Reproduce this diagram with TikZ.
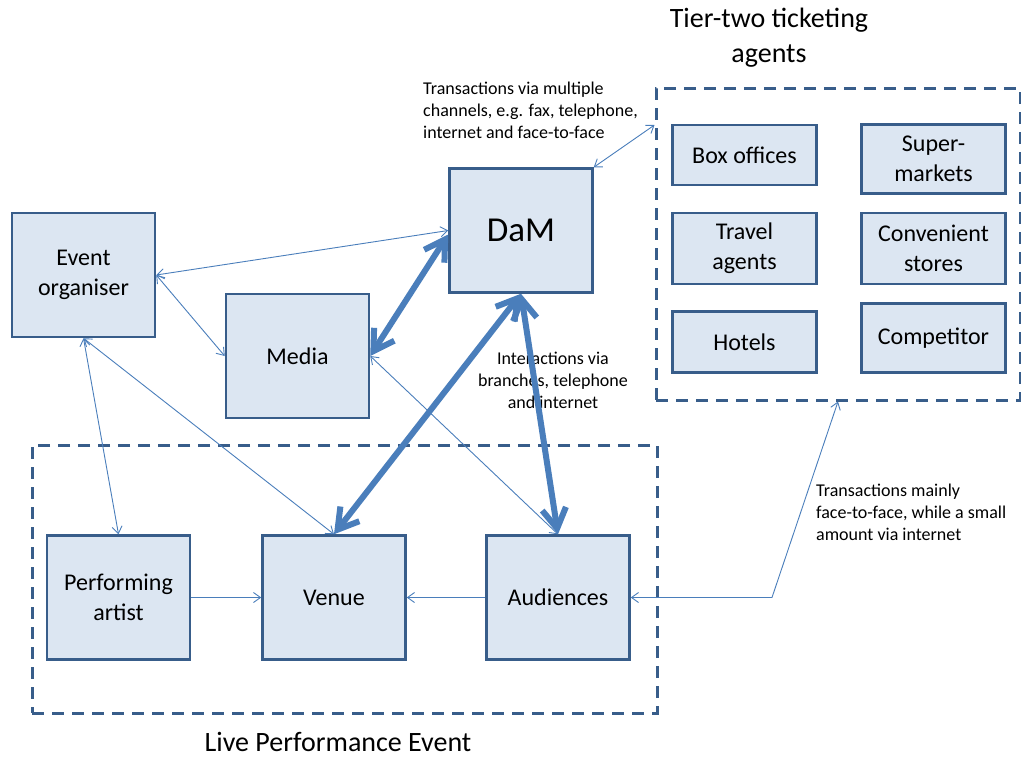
\documentclass[tikz,border=0pt]{standalone}
\usepackage{fontspec}
\setmainfont{Carlito}
\usetikzlibrary{arrows.meta}
\definecolor{boxfill}{HTML}{DCE6F2}
\definecolor{boxline}{HTML}{385D8A}
\definecolor{linkblue}{HTML}{4A7EBB}

\begin{document}
\begin{tikzpicture}[
            x=1pt, y=-1pt,
            box/.style={draw=boxline, fill=boxfill, line width=2.5pt, align=center,
                minimum width=143pt, minimum height=124pt, inner sep=2pt,
                font=\fontsize{24}{30}\selectfont},
            agent/.style={box, minimum width=144pt},
            group/.style={draw=boxline, line width=3pt, dash pattern=on 12pt off 8pt},
            note/.style={inner sep=0pt, font=\fontsize{18}{22}\selectfont},
            heading/.style={inner sep=0pt, align=center, font=\fontsize{28}{35}\selectfont},
            thinlink/.style={draw=linkblue, line width=0.9pt, >={Straight Barb[length=7pt,width=10pt]}},
            thicklink/.style={draw=linkblue, line width=6pt, >={Straight Barb[length=20pt,width=24pt]}},
        ]
            \useasboundingbox (0,0) rectangle (1021,758);

            % dashed groups
            \node[group, minimum width=625pt, minimum height=268pt] (live) at (344.5,579) {};
            \node[group, minimum width=364pt, minimum height=312pt] (tier) at (838,244) {};

            % main actors
            \node[box] (org) at (83.5,275) {Event\\organiser};
            \node[box] (media) at (297.5,356) {Media};
            \node[box, font=\fontsize{35}{40}\selectfont] (dam) at (521,230.5) {DaM};
            \node[box] (perf) at (118.5,597.5) {Performing\\artist};
            \node[box] (venue) at (334,597.5) {Venue};
            \node[box] (aud) at (558,597.5) {Audiences};

            % tier-two agents
            \node[agent, minimum height=60pt] (boxoff) at (744.5,155) {Box offices};
            \node[agent, minimum height=69pt] (super) at (933.5,159) {Super-\\markets};
            \node[agent, minimum height=71pt] (travel) at (744.5,248.5) {Travel\\agents};
            \node[agent, minimum height=71pt] (conv) at (933.5,248.5) {Convenient\\stores};
            \node[agent, minimum height=61pt] (hotels) at (744.5,342) {Hotels};
            \node[agent, minimum height=69pt] (comp) at (933.5,338) {Competitor};

            % titles and notes
            \node[heading] (tiertitle) at (769,38) {Tier-two ticketing\\agents};
            \node[heading] (livetitle) at (338,742) {Live Performance Event};
            \node[note, anchor=west, align=left] (multi) at (423,110) {Transactions via multiple\\channels, e.g. fax, telephone,\\internet and face-to-face};
            \node[note, align=center] (inter) at (553,380) {Interactions via\\branches, telephone\\and internet};
            \node[note, anchor=west, align=left] (mainly) at (816,512) {Transactions mainly\\face-to-face, while a small\\amount via internet};

            % thin links
            \draw[thinlink, <->] (org.east) -- (dam.west);
            \draw[thinlink, <->] (org.east) -- (media.west);
            \draw[thinlink, <->] (org.south) -- (perf.north);
            \draw[thinlink, <->] (org.south) -- (venue.north);
            \draw[thinlink, <->] (media.east) -- (aud.north);
            \draw[thinlink, ->] (perf.east) -- (venue.west);
            \draw[thinlink, ->] (aud.west) -- (venue.east);
            \draw[thinlink, <->] (dam.north east) -- ([yshift=119pt]tier.west);
            \coordinate (turn) at (772,597.5);
            \draw[thinlink, <->] (aud.east) -- (turn) -- (tier.south);

            % thick links
            \draw[thicklink, <->] (media.east) -- ([yshift=-4pt]dam.west);
            \draw[thicklink, <->] (dam.south) -- (venue.north);
            \draw[thicklink, <->] (dam.south) -- (aud.north);
        \end{tikzpicture}
\end{document}
